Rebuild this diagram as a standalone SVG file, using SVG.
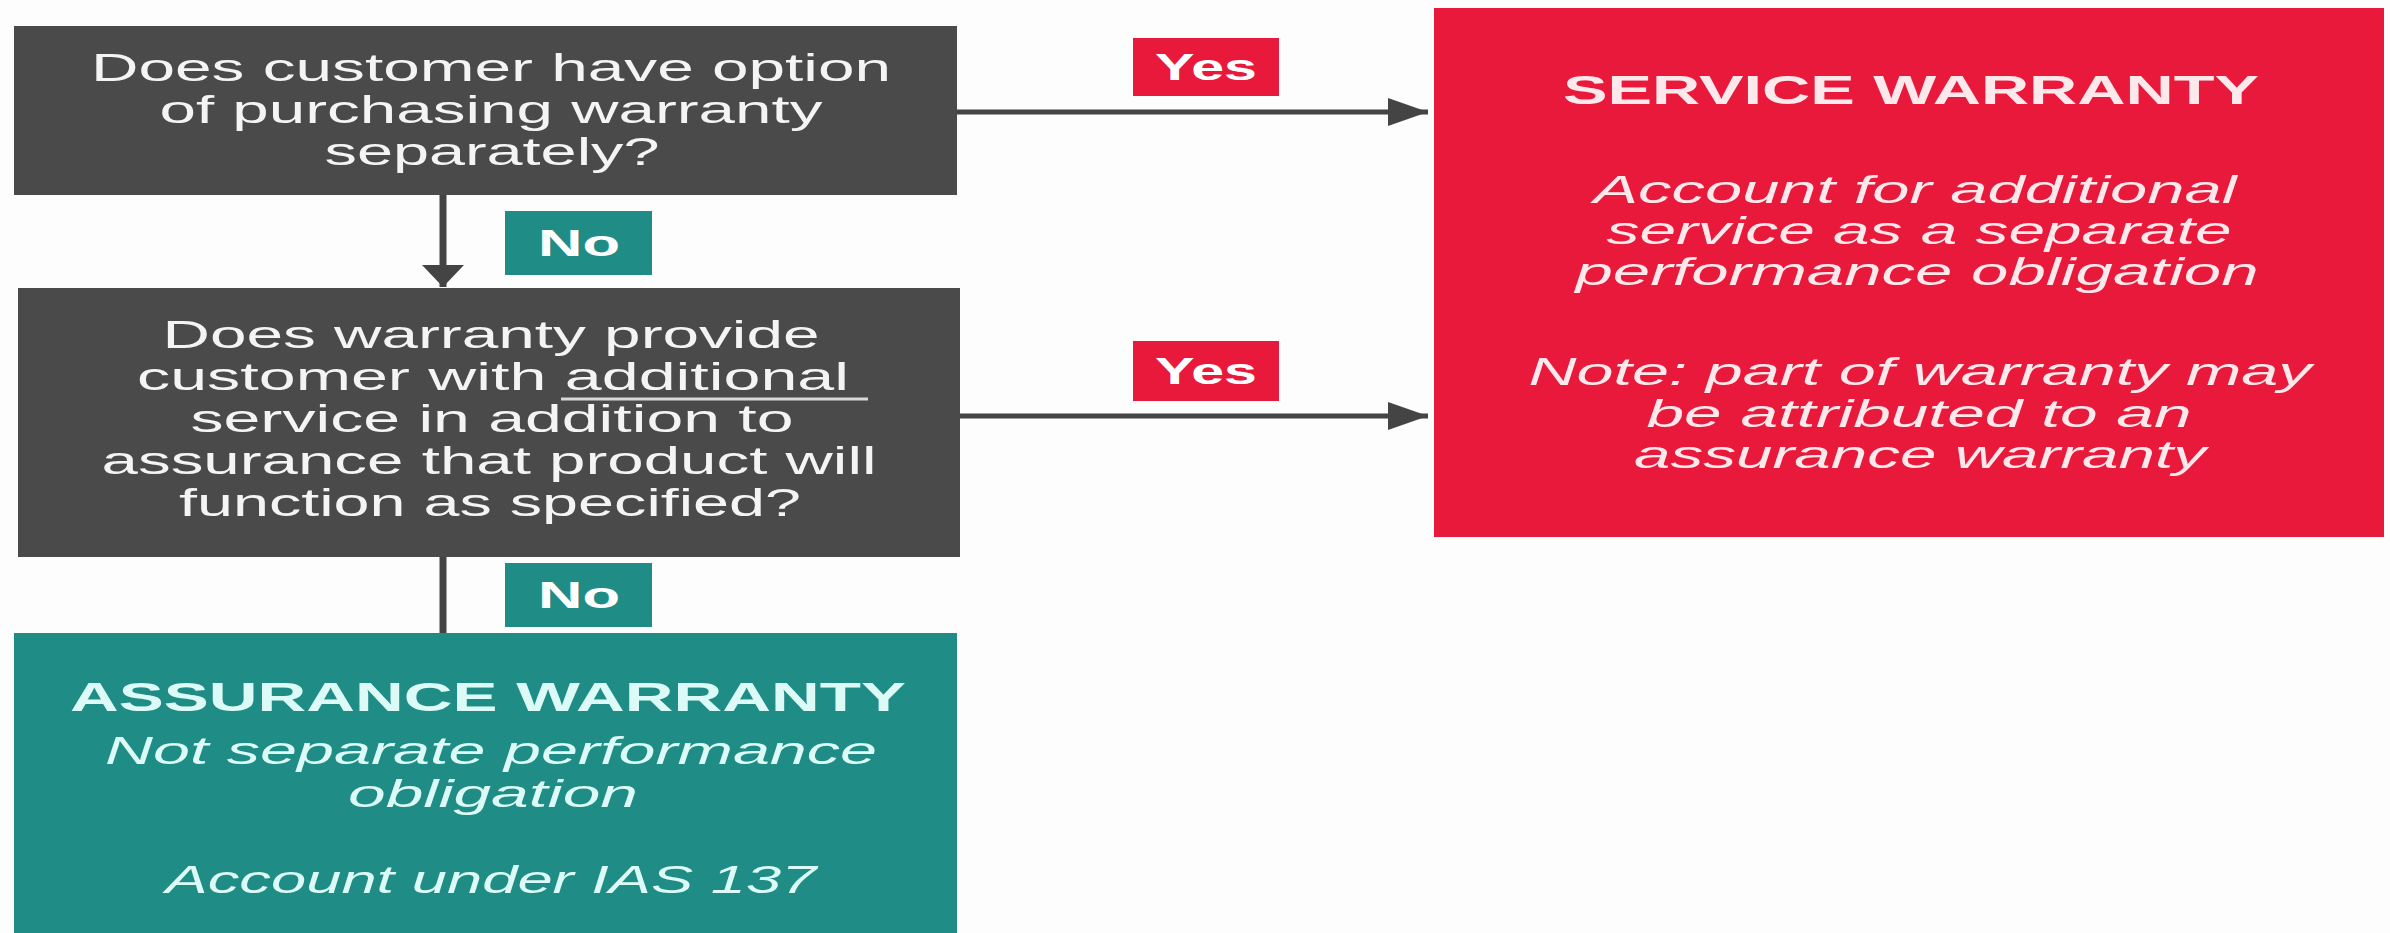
<svg xmlns="http://www.w3.org/2000/svg" width="2390" height="933" viewBox="0 0 2390 933">
<defs>
<style>
.q{fill:#4a4a4a}
.red{fill:#e8193b}
.teal{fill:#1f8d86}
.t{font-family:"Liberation Sans",Arial,sans-serif;text-anchor:middle}
.qt{font-size:38px;fill:#f4f4f4}
.h{font-weight:bold;font-size:40px}
.it{font-style:italic;font-size:38px}
.rt{fill:#fde9ec}
.tt{fill:#dcfbf7}
.lbl{font-weight:bold;font-size:36px;fill:#ffffff}
.ln{stroke:#444444;fill:none}
</style>
<marker id="ah" markerUnits="userSpaceOnUse" markerWidth="42" markerHeight="30" refX="40" refY="15" orient="auto">
<path d="M0,1 L40,15 L0,29 Z" fill="#444444"/>
</marker>
<marker id="av" markerUnits="userSpaceOnUse" markerWidth="24" markerHeight="44" refX="22" refY="22" orient="auto">
<path d="M0,1 L22,22 L0,43 Z" fill="#444444"/>
</marker>
</defs>
<rect width="2390" height="933" fill="#fdfdfd"/>

<g id="connectors">
<line class="ln" x1="443" y1="195" x2="443" y2="287" stroke-width="7" marker-end="url(#av)"/>
<line class="ln" x1="443" y1="557" x2="443" y2="633" stroke-width="7"/>
<line class="ln" x1="957" y1="112" x2="1428" y2="112" stroke-width="5" marker-end="url(#ah)"/>
<line class="ln" x1="960" y1="416" x2="1428" y2="416" stroke-width="5" marker-end="url(#ah)"/>
<g id="lbl-yes1"><rect class="red" x="1133" y="38" width="146" height="58"/><text class="t lbl" x="1206" y="80" textLength="102" lengthAdjust="spacingAndGlyphs">Yes</text></g>
<g id="lbl-yes2"><rect class="red" x="1133" y="341" width="146" height="60"/><text class="t lbl" x="1206" y="384" textLength="102" lengthAdjust="spacingAndGlyphs">Yes</text></g>
<g id="lbl-no1"><rect class="teal" x="505" y="211" width="147" height="64"/><text class="t lbl" x="579" y="256" textLength="82" lengthAdjust="spacingAndGlyphs">No</text></g>
<g id="lbl-no2"><rect class="teal" x="505" y="563" width="147" height="64"/><text class="t lbl" x="579" y="608" textLength="82" lengthAdjust="spacingAndGlyphs">No</text></g>
</g>

<g id="q1">
<rect class="q" x="14" y="26" width="943" height="169"/>
<text class="t qt" x="491" y="81" textLength="800" lengthAdjust="spacingAndGlyphs">Does customer have option</text>
<text class="t qt" x="491" y="123" textLength="663" lengthAdjust="spacingAndGlyphs">of purchasing warranty</text>
<text class="t qt" x="492" y="165" textLength="335" lengthAdjust="spacingAndGlyphs">separately?</text>
</g>

<g id="q2">
<rect class="q" x="18" y="288" width="942" height="269"/>
<text class="t qt" x="491" y="348" textLength="657" lengthAdjust="spacingAndGlyphs">Does warranty provide</text>
<text class="t qt" x="493" y="390" textLength="712" lengthAdjust="spacingAndGlyphs">customer with additional</text>
<line x1="561" y1="399" x2="868" y2="399" stroke="#d8d8d8" stroke-width="3"/>
<text class="t qt" x="492" y="432" textLength="603" lengthAdjust="spacingAndGlyphs">service in addition to</text>
<text class="t qt" x="489" y="474" textLength="775" lengthAdjust="spacingAndGlyphs">assurance that product will</text>
<text class="t qt" x="490" y="516" textLength="622" lengthAdjust="spacingAndGlyphs">function as specified?</text>
</g>

<g id="service-warranty">
<rect class="red" x="1434" y="8" width="950" height="529"/>
<text class="t h rt" x="1911" y="104" textLength="696" lengthAdjust="spacingAndGlyphs">SERVICE WARRANTY</text>
<text class="t it rt" x="1915" y="203" textLength="643" lengthAdjust="spacingAndGlyphs">Account for additional</text>
<text class="t it rt" x="1919" y="244" textLength="625" lengthAdjust="spacingAndGlyphs">service as a separate</text>
<text class="t it rt" x="1917" y="285" textLength="683" lengthAdjust="spacingAndGlyphs">performance obligation</text>
<text class="t it rt" x="1920" y="385" textLength="783" lengthAdjust="spacingAndGlyphs">Note: part of warranty may</text>
<text class="t it rt" x="1919" y="427" textLength="545" lengthAdjust="spacingAndGlyphs">be attributed to an</text>
<text class="t it rt" x="1920" y="468" textLength="572" lengthAdjust="spacingAndGlyphs">assurance warranty</text>
</g>

<g id="assurance-warranty">
<rect class="teal" x="14" y="633" width="943" height="300"/>
<text class="t h tt" x="488" y="711" textLength="836" lengthAdjust="spacingAndGlyphs">ASSURANCE WARRANTY</text>
<text class="t it tt" x="491" y="764" textLength="772" lengthAdjust="spacingAndGlyphs">Not separate performance</text>
<text class="t it tt" x="493" y="807" textLength="290" lengthAdjust="spacingAndGlyphs">obligation</text>
<text class="t it tt" x="491" y="893" textLength="651" lengthAdjust="spacingAndGlyphs">Account under IAS 137</text>
</g>
</svg>
